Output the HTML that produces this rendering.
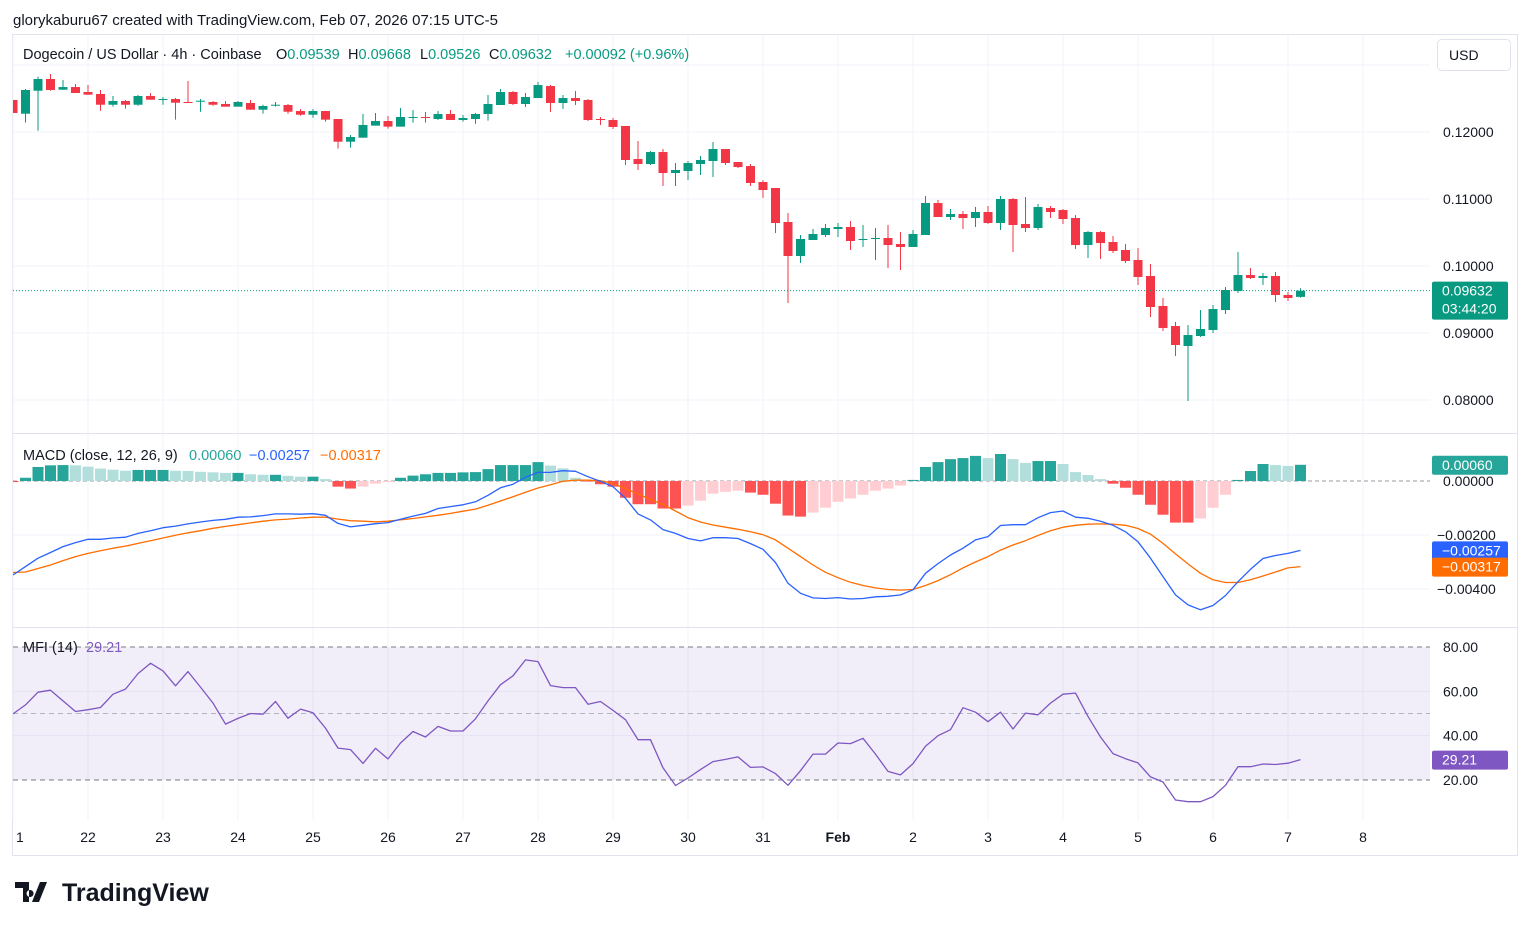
<!DOCTYPE html>
<html><head><meta charset="utf-8"><style>
body{margin:0;background:#fff;font-family:"Liberation Sans",sans-serif;}
svg{display:block}
text{font-family:"Liberation Sans",sans-serif}
</style></head><body>
<svg id="c" width="1530" height="930" viewBox="0 0 1530 930" xmlns="http://www.w3.org/2000/svg">
<defs><clipPath id="cp"><rect x="13" y="35" width="1417" height="785"/></clipPath></defs>
<text x="13" y="25" font-size="15" fill="#131722">glorykaburu67 created with TradingView.com, Feb 07, 2026 07:15 UTC-5</text>
<rect x="12.5" y="34.5" width="1505" height="821" fill="none" stroke="#e0e3eb"/>
<g id="grid"></g>
<line x1="13" y1="433.5" x2="1517" y2="433.5" stroke="#e0e3eb"/>
<line x1="13" y1="627.5" x2="1517" y2="627.5" stroke="#e0e3eb"/>
<g id="plot" clip-path="url(#cp)"></g>
<g id="axis"></g>
<g font-size="14.5">
<text x="23" y="59" fill="#131722">Dogecoin / US Dollar · 4h · Coinbase</text>
<text x="276" y="59" fill="#131722">O<tspan fill="#089981">0.09539</tspan></text>
<text x="348" y="59" fill="#131722">H<tspan fill="#089981">0.09668</tspan></text>
<text x="420" y="59" fill="#131722">L<tspan fill="#089981">0.09526</tspan></text>
<text x="489" y="59" fill="#131722">C<tspan fill="#089981">0.09632</tspan></text>
<text x="565" y="59" fill="#089981">+0.00092 (+0.96%)</text>
</g>
<g font-size="14.5">
<text x="23" y="460" fill="#131722">MACD (close, 12, 26, 9)</text>
<text x="189" y="460" fill="#26a69a">0.00060</text>
<text x="249" y="460" fill="#2962ff">−0.00257</text>
<text x="320" y="460" fill="#ff6d00">−0.00317</text>
</g>
<g font-size="14.5">
<text x="23" y="652" fill="#131722">MFI (14)</text>
<text x="86" y="652" fill="#7e57c2">29.21</text>
</g>
<rect x="1437.5" y="39.5" width="73" height="31" rx="4" fill="#fff" stroke="#e0e3eb"/>
<text x="1449" y="60" font-size="14" fill="#131722">USD</text>
<g>
<path d="M15 882h14v20h-6v-14h-8z M32 902l8-20h7l-8 20z M30 890a3.5 3.5 0 1 0 0.1 0z" fill="#131722"/>
<text x="62" y="901" font-size="25" font-weight="bold" fill="#131722">TradingView</text>
</g>
</svg>
<script>
const O=[.12478,.12273,.12616,.12791,.12631,.12671,.12597,.12567,.12407,.12463,.12407,.12537,.12482,.12492,.12448,.12458,.12448,.12418,.12378,.12433,.12333,.12392,.12403,.12313,.12258,.12313,.12194,.11855,.11915,.12095,.12164,.12080,.12213,.12224,.12194,.12269,.12179,.12194,.12269,.12403,.12597,.12418,.12507,.12686,.12433,.12507,.12478,.12194,.12179,.12090,.11597,.11522,.11701,.11388,.11418,.11522,.11567,.11746,.11552,.11492,.11254,.11164,.10657,.10149,.10388,.10463,.10552,.10582,.10388,.10403,.10418,.10328,.10284,.10463,.10940,.10731,.10776,.10716,.10806,.10642,.11000,.10627,.10567,.10866,.10836,.10716,.10313,.10507,.10358,.10239,.10090,.09851,.09403,.09104,.08806,.08955,.09045,.09343,.09627,.09866,.09821,.09851,.09567,.09539];
const H=[.12478,.12642,.12826,.12866,.12776,.12716,.12701,.12627,.12537,.12478,.12552,.12582,.12522,.12507,.12761,.12492,.12463,.12463,.12463,.12478,.12407,.12448,.12418,.12343,.12343,.12313,.12194,.11955,.12269,.12284,.12239,.12358,.12328,.12298,.12313,.12328,.12254,.12284,.12552,.12642,.12612,.12582,.12746,.12701,.12552,.12612,.12492,.12224,.12209,.12090,.11866,.11716,.11746,.11537,.11567,.11642,.11851,.11746,.11552,.11522,.11284,.11164,.10791,.10463,.10552,.10627,.10642,.10671,.10612,.10567,.10612,.10507,.10537,.11045,.10985,.10851,.10821,.10881,.10896,.11045,.11015,.11030,.10925,.10896,.10851,.10761,.10522,.10522,.10448,.10328,.10269,.10030,.09522,.09164,.09119,.09343,.09418,.09687,.10209,.09970,.09895,.09910,.09612,.09668];
const L=[.12284,.12139,.12019,.12616,.12631,.12582,.12557,.12318,.12378,.12348,.12392,.12482,.12407,.12184,.12433,.12303,.12392,.12378,.12378,.12333,.12273,.12378,.12273,.12243,.12213,.12154,.11751,.11766,.11915,.12095,.12050,.12080,.12139,.12139,.12179,.12179,.12154,.12124,.12169,.12403,.12403,.12373,.12507,.12298,.12343,.12403,.12164,.12105,.12045,.11507,.11433,.11507,.11194,.11194,.11284,.11358,.11328,.11507,.11463,.11194,.11015,.10492,.09448,.10045,.10388,.10433,.10433,.10239,.10284,.10090,.09970,.09940,.10284,.10463,.10731,.10686,.10552,.10582,.10627,.10537,.10209,.10507,.10537,.10716,.10627,.10254,.10119,.10104,.10194,.10045,.09716,.09239,.09030,.08657,.07985,.08940,.09000,.09284,.09597,.09806,.09716,.09463,.09478,.09526];
const C=[.12284,.12627,.12791,.12627,.12671,.12582,.12557,.12407,.12463,.12407,.12537,.12482,.12492,.12437,.12433,.12467,.12407,.12378,.12448,.12333,.12388,.12407,.12303,.12258,.12313,.12184,.11855,.11925,.12105,.12164,.12080,.12224,.12224,.12213,.12269,.12179,.12209,.12269,.12418,.12597,.12418,.12522,.12701,.12433,.12507,.12463,.12179,.12179,.12075,.11582,.11522,.11701,.11388,.11433,.11537,.11582,.11746,.11537,.11477,.11239,.11134,.10642,.10149,.10403,.10478,.10567,.10582,.10373,.10403,.10418,.10313,.10284,.10478,.10940,.10731,.10776,.10716,.10806,.10642,.11000,.10612,.10567,.10881,.10806,.10701,.10313,.10507,.10343,.10224,.10075,.09836,.09388,.09075,.08821,.08970,.09060,.09358,.09642,.09866,.09821,.09851,.09567,.09522,.09632];
// MACD values in units of 1e-5
const macdE5=[-348,-317,-286,-265,-243,-228,-216,-216,-211,-208,-194,-184,-173,-167,-159,-152,-146,-142,-134,-133,-128,-122,-122,-123,-121,-127,-157,-170,-164,-158,-154,-142,-130,-120,-102,-95,-88,-77,-53,-25,-12,14,32,32,38,36,16,-1,-21,-64,-122,-144,-180,-194,-213,-222,-210,-210,-213,-232,-253,-302,-379,-416,-433,-435,-432,-437,-435,-429,-427,-422,-403,-342,-306,-274,-249,-218,-206,-165,-162,-162,-136,-117,-111,-134,-138,-149,-164,-188,-225,-286,-354,-422,-459,-477,-461,-424,-373,-327,-287,-276,-268,-257];
const signalE5=[-339,-337,-324,-311,-295,-280,-268,-258,-249,-241,-231,-221,-211,-201,-192,-184,-175,-168,-162,-155,-149,-144,-141,-137,-134,-134,-141,-147,-149,-151,-149,-144,-139,-133,-127,-120,-112,-104,-90,-74,-58,-42,-26,-14,-1,3,3,1,-9,-28,-48,-68,-87,-111,-136,-152,-163,-171,-179,-188,-199,-218,-249,-280,-311,-338,-358,-375,-387,-396,-402,-404,-402,-387,-369,-347,-322,-300,-280,-256,-237,-221,-202,-184,-171,-164,-160,-159,-160,-164,-176,-197,-231,-270,-307,-342,-366,-376,-376,-366,-352,-337,-322,-317];
const histE5=[-4,12,52,58,59,58,53,46,42,38,41,41,41,38,37,34,32,30,30,25,23,23,19,16,16,7,-21,-28,-21,-10,-4,12,20,25,30,30,32,33,44,59,59,59,70,57,47,12,-2,-12,-21,-62,-86,-86,-102,-102,-91,-73,-47,-40,-36,-43,-51,-84,-128,-132,-117,-99,-77,-65,-51,-36,-28,-17,4,52,70,81,85,93,85,100,81,67,74,74,63,33,22,7,-10,-25,-51,-88,-125,-154,-154,-139,-99,-51,4,37,63,59,56,60];
const mfi=[49.8,53.9,59.6,60.5,55.7,50.9,51.7,52.7,58.7,61,68,72.7,69.2,62.5,68.9,61.9,54.7,45.2,47.8,50,49.7,55.4,47.9,52,50.3,43.4,34.4,33.7,27.5,34.3,29.5,36.7,41.9,39.4,44.2,42.1,42.1,47.6,55.7,63,67,74.2,73.4,62.6,61.7,61.7,54.2,55.4,51.4,47.2,38.2,38.2,25.5,17.5,20.9,24.7,28.3,29.3,30.4,25.7,25.9,22.9,17.6,24.2,31.7,31.7,36.7,36.4,38.8,31.7,23.9,22.3,27.4,35.2,40,42.7,52.6,50.6,46.3,50.6,43,50.2,49.4,54.7,58.7,59.2,48.7,39.4,31.9,29.6,27.7,21.4,19.1,11,10.2,10.2,12.5,17.6,26,26,27.2,27,27.6,29.21];
const dayLabels=["1","22","23","24","25","26","27","28","29","30","31","Feb","2","3","4","5","6","7","8"];
const priceTicks=[0.12,0.11,0.10,0.09,0.08];
const macdTicks=[0,-0.002,-0.004];
const mfiTicks=[80,60,40,20];

const NS="http://www.w3.org/2000/svg";
function mk(tag,attrs,parent){const e=document.createElementNS(NS,tag);for(const k in attrs)e.setAttribute(k,attrs[k]);parent.appendChild(e);return e;}
const xOf=i=>13+12.5*i;
const yP=p=>132+(0.12-p)*6700;
const yM=v=>481-v*27000;
const yF=m=>647+(80-m)*2.2167;
const grid=document.getElementById('grid'),plot=document.getElementById('plot'),axis=document.getElementById('axis');

dayLabels.forEach((d,i)=>{const x=13+75*i;
 const g=mk('line',{x1:x,y1:35,x2:x,y2:820,stroke:'#f0f3fa'},grid);
 
 
 const t=mk('text',{x:i===0?16:x,y:842,'font-size':14,fill:'#131722','text-anchor':i===0?'start':'middle','font-weight':d==='Feb'?'bold':'normal'},axis);
 t.textContent=d;
 
 
});
[0.13,0.12,0.11,0.10,0.09,0.08].forEach(p=>{const l=mk('line',{x1:13,y1:yP(p),x2:1430,y2:yP(p),stroke:'#f0f3fa'},grid);
 
 });
priceTicks.forEach(p=>{const t=mk('text',{x:1443,y:yP(p)+5,'font-size':14,fill:'#131722'},axis);t.textContent=p.toFixed(5);
 
 });
[-0.002,-0.004].forEach(v=>{const l=mk('line',{x1:13,y1:yM(v),x2:1430,y2:yM(v),stroke:'#f0f3fa'},grid);
 
 });
macdTicks.forEach(v=>{const t=mk('text',{x:v===0?1443:1437,y:yM(v)+5,'font-size':14,fill:'#131722'},axis);t.textContent=(v<0?'−':'')+Math.abs(v).toFixed(5);
 
 });
[60,40].forEach(m=>{const l=mk('line',{x1:13,y1:yF(m),x2:1430,y2:yF(m),stroke:'#f0f3fa'},grid);
 
 });
mfiTicks.forEach(m=>{const t=mk('text',{x:1443,y:yF(m)+5,'font-size':14,fill:'#131722'},axis);t.textContent=m.toFixed(2);
 
 });

const N=C.length;
for(let i=0;i<N;i++){const up=C[i]>=O[i];const col=up?'#089981':'#f23645';const x=xOf(i);
 const w=mk('line',{x1:x,y1:yP(H[i]),x2:x,y2:yP(L[i]),stroke:col,'stroke-width':1},plot);
 
 
 const top=yP(Math.max(O[i],C[i]));const h=Math.max(1,Math.abs(yP(O[i])-yP(C[i])));
 const b=mk('rect',{x:x-4.5,y:top,width:9,height:h,fill:col},plot);
 
 
}
const lp=mk('line',{x1:13,y1:yP(C[N-1]),x2:1430,y2:yP(C[N-1]),stroke:'#089981','stroke-dasharray':'1 2'},plot);



const z=mk('line',{x1:13,y1:yM(0),x2:1430,y2:yM(0),stroke:'#9598a1','stroke-dasharray':'4 3'},plot);


for(let i=0;i<N;i++){const v=histE5[i]*1e-5,pv=i>0?histE5[i-1]*1e-5:v;
 let col=v>=0?(v>=pv?'#26a69a':'#b2dfdb'):(v<=pv?'#ff5252':'#ffcdd2');
 const y0=yM(0),y1=yM(v);
 const r=mk('rect',{x:xOf(i)-5.5,y:Math.min(y0,y1),width:11,height:Math.max(0.5,Math.abs(y1-y0)),fill:col},plot);
 
 
}
function poly(arr,fy,col,name){const pts=arr.map((v,i)=>xOf(i)+','+fy(v).toFixed(1)).join(' ');
 const p=mk('polyline',{points:pts,fill:'none',stroke:col,'stroke-width':1.3,'stroke-linejoin':'round'},plot);
 
 }
poly(signalE5,v=>yM(v*1e-5),'#ff6d00','macd-signal-line');
poly(macdE5,v=>yM(v*1e-5),'#2962ff','macd-line');

const band=mk('rect',{x:13,y:yF(80),width:1417,height:yF(20)-yF(80),fill:'#7e57c2','fill-opacity':0.1},plot);


[[80,'#787b86'],[50,'#b2b5be'],[20,'#787b86']].forEach(([m,c])=>{const l=mk('line',{x1:13,y1:yF(m),x2:1430,y2:yF(m),stroke:c,'stroke-dasharray':'5 4'},plot);
 
 });
poly(mfi,yF,'#7e57c2','mfi-line');

function badge(y,h,col,lines,name){const g=mk('g',{},axis);
 
 
 mk('rect',{x:1432,y:y,width:76,height:h,rx:2,fill:col},g);
 lines.forEach((s,k)=>{const t=mk('text',{x:1442,y:y+14+k*18,'font-size':14,fill:'#fff'},g);t.textContent=s;});}
badge(yP(C[N-1])-9,38,'#089981',[C[N-1].toFixed(5),'03:44:20'],'last-price-badge');
badge(yM(histE5[N-1]*1e-5)-9,19,'#26a69a',[(histE5[N-1]*1e-5).toFixed(5)],'macd-histogram-badge');
badge(yM(macdE5[N-1]*1e-5)-9,19,'#2962ff',['−'+Math.abs(macdE5[N-1]*1e-5).toFixed(5)],'macd-value-badge');
badge(yM(signalE5[N-1]*1e-5)-9,19,'#ff6d00',['−'+Math.abs(signalE5[N-1]*1e-5).toFixed(5)],'signal-value-badge');
badge(yF(mfi[N-1])-9,19,'#7e57c2',[mfi[N-1].toFixed(2)],'mfi-value-badge');
</script>
</body></html>
